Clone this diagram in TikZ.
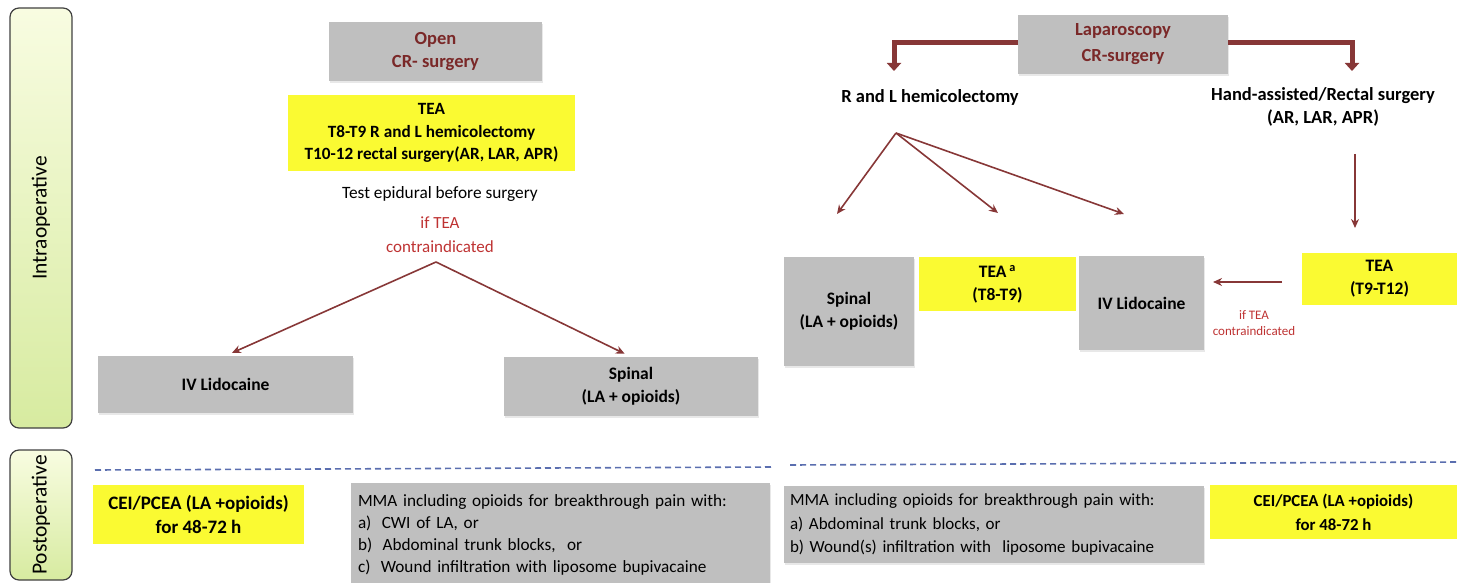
\documentclass[tikz,border=0pt]{standalone}
\usepackage{fontspec}
\setmainfont{Carlito}
\usetikzlibrary{arrows.meta,calc,shadows}
\definecolor{gbox}{RGB}{191,191,191}
\definecolor{ybox}{RGB}{250,250,50}
\definecolor{dred}{RGB}{122,40,40}
\definecolor{ared}{RGB}{135,55,55}
\definecolor{tred}{RGB}{190,50,50}
\definecolor{dblue}{RGB}{90,110,175}
\definecolor{gtop}{RGB}{248,252,225}
\definecolor{gbot}{RGB}{215,235,160}
\tikzset{
  graybox/.style={fill=gbox,inner sep=2pt,align=center,font=\fontsize{17.5}{23}\selectfont\bfseries,
    drop shadow={opacity=0.18,shadow xshift=1pt,shadow yshift=-2pt}},
  yellowbox/.style={fill=ybox,inner sep=2pt,align=center,font=\fontsize{17.5}{23}\selectfont\bfseries},
  phase/.style={draw=black!75,line width=1.2pt,rounded corners=9pt,shading=axis,top color=gtop,bottom color=gbot},
  phasetxt/.style={rotate=90,font=\fontsize{21.5}{24}\selectfont},
  thinarrow/.style={draw=ared,line width=1.6pt,-{Stealth[length=9pt,width=8pt]}},
  thickarrow/.style={draw=ared,line width=5pt,-{Triangle[length=8pt,width=14pt]}},
  plain/.style={align=center,font=\fontsize{17.3}{22}\selectfont},
  redtxt/.style={align=center,text=tred,font=\fontsize{17}{24}\selectfont},
  mmabox/.style={fill=gbox,align=left,inner sep=0pt,drop shadow={opacity=0.18,shadow xshift=1pt,shadow yshift=-2pt}},
  sep/.style={draw=dblue,line width=1.6pt,dash pattern=on 6pt off 4pt}
}
\begin{document}
\begin{tikzpicture}[x=1pt,y=-1pt]
\useasboundingbox (0,0) rectangle (1457,583);
% phase boxes
\node[phase,minimum width=62pt,minimum height=420pt] (intra) at (41,218) {};
\node[phasetxt] (intratxt) at (intra.center) {Intraoperative};
\node[phase,minimum width=62pt,minimum height=130pt] (post) at (41,515) {};
\node[phasetxt] (posttxt) at (post.center) {Postoperative};

% Open surgery branch
\node[graybox,minimum width=213pt,minimum height=59pt,text=dred,font=\fontsize{18.5}{23}\selectfont\bfseries] (open) at (435.5,51.5) {Open\\CR- surgery};
\node[yellowbox,minimum width=287pt,minimum height=76pt,font=\fontsize{17.2}{22.5}\selectfont\bfseries] (tea1) at (431.5,133) {TEA\\T8-T9 R and L hemicolectomy\\T10-12 rectal surgery(AR, LAR, APR)};
\node[plain] (test) at (440,194) {Test epidural before surgery};
\node[redtxt] (ift1) at (440,235) {if TEA\\contraindicated};
\coordinate (split) at (436,262);
\node[graybox,minimum width=255pt,minimum height=57pt] (ivl1) at (225.5,384.5) {IV Lidocaine};
\node[graybox,minimum width=254pt,minimum height=59pt] (sp1) at (631,386.5) {Spinal\\(LA + opioids)};
\draw[thinarrow,shorten >=7pt] (split) -- (ivl1.north);
\draw[thinarrow,shorten >=7pt] (split) -- (sp1.north);

% Laparoscopy branch
\node[graybox,minimum width=210pt,minimum height=59pt,text=dred,font=\fontsize{18.5}{26}\selectfont\bfseries] (lap) at (1123,44.5) {Laparoscopy\\CR-surgery};
\node[plain,font=\fontsize{18.5}{22}\selectfont\bfseries] (rlh) at (930,97) {R and L hemicolectomy};
\node[plain,font=\fontsize{18.5}{23}\selectfont\bfseries] (hand) at (1323,106.5) {Hand-assisted/Rectal surgery\\(AR, LAR, APR)};
\coordinate (lk) at (894,43);
\coordinate (lke) at (894,71);
\coordinate (rk) at (1352,43);
\coordinate (rke) at (1352,71);
\draw[thickarrow] (lap.west |- lk) -- (lk) -- (lke);
\draw[thickarrow] (lap.east |- rk) -- (rk) -- (rke);

\node[graybox,minimum width=130pt,minimum height=109pt] (sp2) at (849,311.5) {Spinal\\(LA + opioids)};
\node[yellowbox,minimum width=157pt,minimum height=54pt] (tea2) at (997.5,284) {TEA\,\textsuperscript{a}\\(T8-T9)};
\node[graybox,minimum width=125pt,minimum height=94pt] (ivl2) at (1141.5,303) {IV Lidocaine};
\node[yellowbox,minimum width=155pt,minimum height=52pt] (tea3) at (1379.5,279) {TEA\\(T9-T12)};
\node[redtxt,font=\fontsize{13}{15.5}\selectfont] (ift2) at (1254,323) {if TEA\\contraindicated};

\coordinate (fork) at (896,133);
\coordinate (e1) at (837,214);
\coordinate (e2) at (998,213);
\coordinate (e3) at (1124,214);
\draw[thinarrow] (fork) -- (e1);
\draw[thinarrow] (fork) -- (e2);
\draw[thinarrow] (fork) -- (e3);
\coordinate (h1) at (1355,154);
\coordinate (h2) at (1355,228);
\draw[thinarrow] (h1) -- (h2);
\coordinate (c1) at (1282,282);
\coordinate (c2) at (1213,282);
\draw[thinarrow] (c1) -- (c2);

% separators
\coordinate (d1) at (95,470);
\coordinate (d2) at (773,467);
\coordinate (d3) at (790,465);
\coordinate (d4) at (1457,462);
\draw[sep] (d1) -- (d2);
\draw[sep] (d3) -- (d4);

% postoperative
\node[yellowbox,minimum width=211pt,minimum height=59pt,font=\fontsize{19}{24}\selectfont\bfseries] (cei1) at (198.5,514.5) {CEI/PCEA (LA +opioids)\\for 48-72 h};
\node[mmabox,minimum width=419pt,minimum height=103pt,text width=405pt,font=\fontsize{17.2}{22}\selectfont] (mma1) at (560.5,534.5) {MMA including opioids for breakthrough pain with:\\a)\hspace{0.6em}CWI of LA, or\\b)\hspace{0.6em}Abdominal trunk blocks,\ \ or\\c)\hspace{0.6em}Wound infiltration with liposome bupivacaine};
\node[mmabox,minimum width=420pt,minimum height=77pt,text width=408pt,font=\fontsize{17}{23.5}\selectfont] (mma2) at (994,524.5) {MMA including opioids for breakthrough pain with:\\a) Abdominal trunk blocks, or\\b) Wound(s) infiltration with\ \ liposome bupivacaine};
\node[yellowbox,minimum width=247pt,minimum height=54pt,font=\fontsize{16.8}{24}\selectfont\bfseries] (cei2) at (1333.5,512) {CEI/PCEA (LA +opioids)\\for 48-72 h};
\end{tikzpicture}
\end{document}
